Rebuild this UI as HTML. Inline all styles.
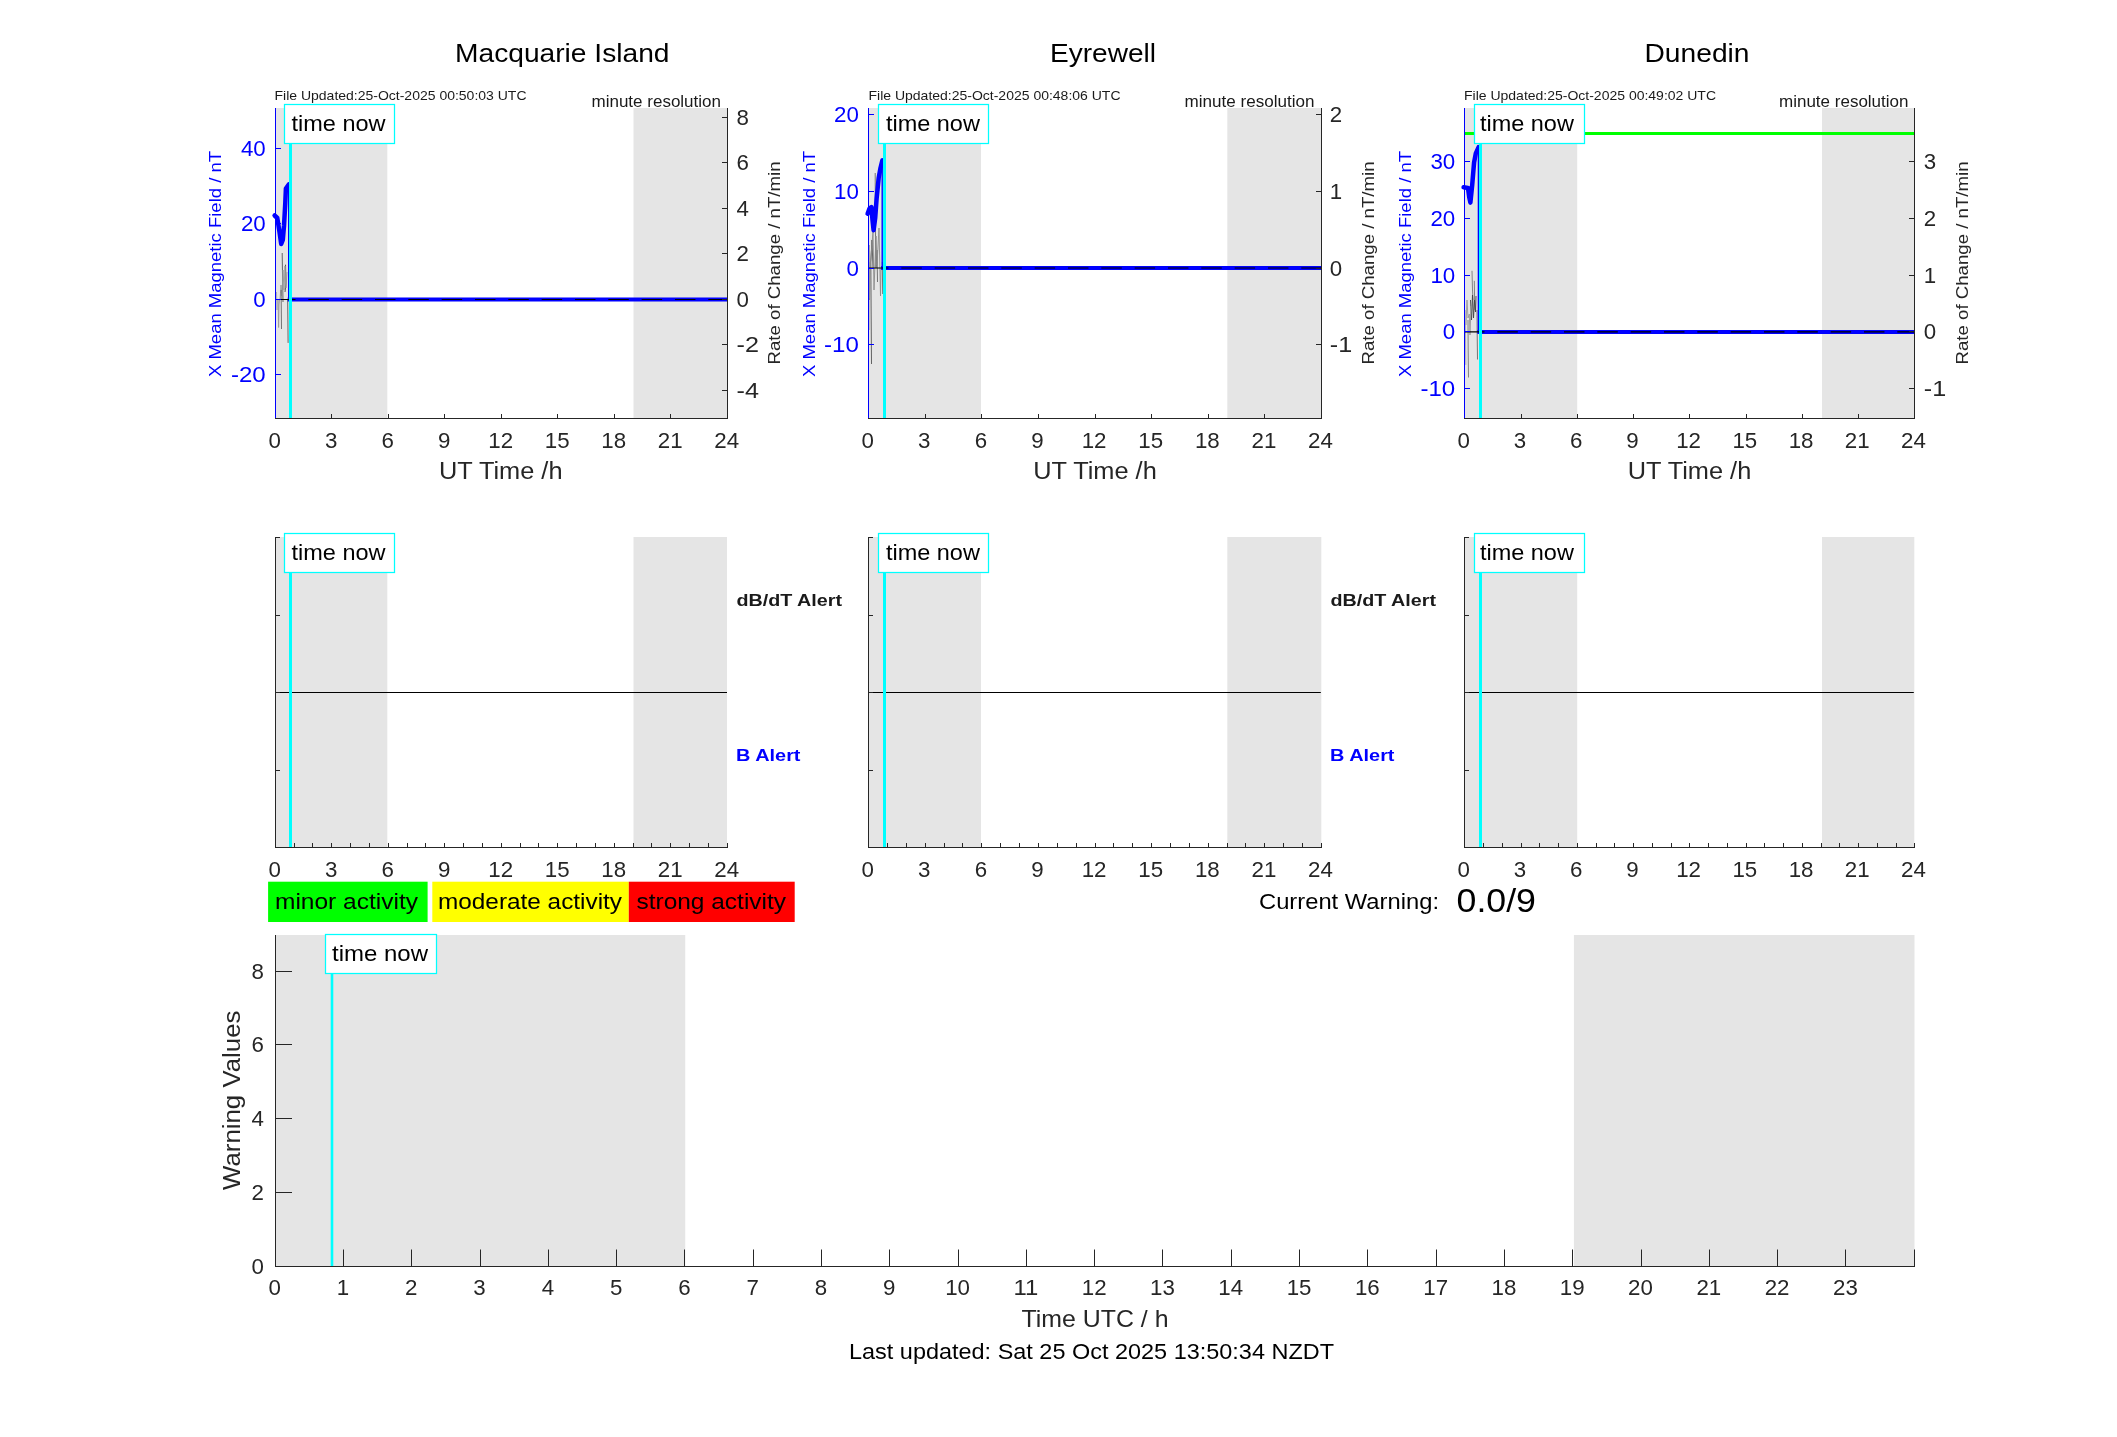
<!DOCTYPE html>
<html><head><meta charset="utf-8"><style>
html,body{margin:0;padding:0;background:#fff;overflow:hidden}
svg{display:block;will-change:transform}
text{font-family:"Liberation Sans", sans-serif}
</style></head><body>
<svg width="2117" height="1437" viewBox="0 0 2117 1437">
<rect width="2117" height="1437" fill="#fff"/>
<rect x="275.5" y="108" width="111.80000000000001" height="310" fill="#e5e5e5"/>
<rect x="633.5" y="108" width="93.5" height="310" fill="#e5e5e5"/>
<rect x="868.5" y="108" width="112.5" height="310" fill="#e5e5e5"/>
<rect x="1227.3" y="108" width="94.0" height="310" fill="#e5e5e5"/>
<rect x="1464.5" y="108" width="112.70000000000005" height="310" fill="#e5e5e5"/>
<rect x="1822.0" y="108" width="92.29999999999995" height="310" fill="#e5e5e5"/>
<line x1="1464.5" y1="133.5" x2="1914.3" y2="133.5" stroke="#00ff00" stroke-width="3"/>
<path d="M282.2,253 L282.6,280 L283,302" fill="none" stroke="#555" stroke-width="0.9"/>
<path d="M285.5,264.7 L285.8,275 L286,283 L285,292" fill="none" stroke="#444" stroke-width="0.9"/>
<path d="M280,300 L281,285 L282,296 L283,270 L284,290 L285,266 L286,288 L287,272" fill="none" stroke="#999" stroke-width="0.9"/>
<path d="M281.1,290 L281.3,310 L281.5,329" fill="none" stroke="#666" stroke-width="0.9"/>
<path d="M278.2,300 L278.4,315 L278.6,327.5 L279,305 L279.5,300" fill="none" stroke="#9a9a9a" stroke-width="0.9"/>
<path d="M287.7,300 L287.9,320 L288.1,342.9" fill="none" stroke="#555" stroke-width="0.9"/>
<path d="M276.5,292 L277,310 L277.5,300" fill="none" stroke="#aaa" stroke-width="0.9"/>
<path d="M274.6,215.5 L277.3,218.0 L279.5,232.0 L281.2,244.0 L282.8,240.0 L284.0,226.0 L285.3,203.0 L285.9,188.5 L288.9,184.3" fill="none" stroke="#0000ff" stroke-width="4.5" stroke-linejoin="round" stroke-linecap="round"/>
<line x1="288.7" y1="184.3" x2="288.7" y2="299.5" stroke="#0000ff" stroke-width="1.4"/>
<line x1="287.7" y1="299.5" x2="727.5" y2="299.5" stroke="#0000ff" stroke-width="4"/>
<line x1="275.0" y1="299.5" x2="727.5" y2="299.5" stroke="#000" stroke-width="1.1" stroke-dasharray="20.5 12.83"/>
<path d="M871.5,364 L871.2,320 L870.8,262 L872,240 L873,268" fill="none" stroke="#555" stroke-width="0.9"/>
<path d="M875.2,173 L875.5,240 L876,268 L877,250 L877.5,282" fill="none" stroke="#666" stroke-width="0.9"/>
<path d="M868.5,268 L869,245 L869.5,300 L870,268 L873,232 L874,290 L876,236 L877,265 L879,228 L880.5,296 L881,268" fill="none" stroke="#8a8a8a" stroke-width="0.9"/>
<path d="M869.3,298 L869,262 L868.8,330 L868.6,300" fill="none" stroke="#999" stroke-width="0.9"/>
<path d="M882.3,262 L882.5,280 L882.7,294" fill="none" stroke="#666" stroke-width="0.9"/>
<path d="M867.6,213.7 L869.5,208.5 L871.4,207.1 L872.5,220.0 L873.6,230.2 L875.2,218.0 L876.6,198.7 L878.7,177.8 L880.5,168.0 L882.4,160.4" fill="none" stroke="#0000ff" stroke-width="4.5" stroke-linejoin="round" stroke-linecap="round"/>
<line x1="882.1999999999999" y1="160.4" x2="882.1999999999999" y2="268.0" stroke="#0000ff" stroke-width="1.4"/>
<line x1="881.1999999999999" y1="268.0" x2="1321.3" y2="268.0" stroke="#0000ff" stroke-width="4"/>
<line x1="868.0" y1="268.0" x2="1321.3" y2="268.0" stroke="#000" stroke-width="1.1" stroke-dasharray="20.5 12.83"/>
<path d="M1472,270.8 L1472.5,290 L1473,300" fill="none" stroke="#777" stroke-width="0.9"/>
<path d="M1474.3,280.8 L1474.6,300 L1475,310" fill="none" stroke="#777" stroke-width="0.9"/>
<path d="M1470.5,300 L1471.5,320 L1472.5,295 L1473.5,318 L1474.5,300 L1475.5,312 L1476,296" fill="none" stroke="#444" stroke-width="0.9"/>
<path d="M1468,320 L1468.2,350 L1468.5,377.5" fill="none" stroke="#777" stroke-width="0.9"/>
<path d="M1477,310 L1477.2,335 L1477.5,359.5" fill="none" stroke="#666" stroke-width="0.9"/>
<path d="M1465.2,310 L1465.5,340 L1465.8,364.9" fill="none" stroke="#aaa" stroke-width="0.9"/>
<path d="M1466,325 L1467,300 L1468,318 L1469.3,314 L1470,335 L1471,306" fill="none" stroke="#999" stroke-width="0.9"/>
<path d="M1463.6,187.3 L1468.0,187.9 L1469.2,197.0 L1470.4,202.6 L1472.2,185.0 L1474.1,162.3 L1475.8,153.4 L1478.6,147.2" fill="none" stroke="#0000ff" stroke-width="4.5" stroke-linejoin="round" stroke-linecap="round"/>
<line x1="1478.3999999999999" y1="147.2" x2="1478.3999999999999" y2="331.9" stroke="#0000ff" stroke-width="1.4"/>
<line x1="1477.3999999999999" y1="331.9" x2="1914.3" y2="331.9" stroke="#0000ff" stroke-width="4"/>
<line x1="1464.0" y1="331.9" x2="1914.3" y2="331.9" stroke="#000" stroke-width="1.1" stroke-dasharray="20.5 12.83"/>
<line x1="290.5" y1="108.0" x2="290.5" y2="418.5" stroke="#00ffff" stroke-width="3"/>
<line x1="275.5" y1="108.0" x2="275.5" y2="418.5" stroke="#0000ff" stroke-width="1.0"/>
<line x1="727.5" y1="108.0" x2="727.5" y2="418.5" stroke="#262626" stroke-width="1.0"/>
<line x1="275.0" y1="418.5" x2="728.0" y2="418.5" stroke="#262626" stroke-width="1.0"/>
<line x1="331.5" y1="418.5" x2="331.5" y2="414.0" stroke="#262626" stroke-width="1.0"/>
<line x1="388.5" y1="418.5" x2="388.5" y2="414.0" stroke="#262626" stroke-width="1.0"/>
<line x1="444.5" y1="418.5" x2="444.5" y2="414.0" stroke="#262626" stroke-width="1.0"/>
<line x1="501.5" y1="418.5" x2="501.5" y2="414.0" stroke="#262626" stroke-width="1.0"/>
<line x1="557.5" y1="418.5" x2="557.5" y2="414.0" stroke="#262626" stroke-width="1.0"/>
<line x1="614.5" y1="418.5" x2="614.5" y2="414.0" stroke="#262626" stroke-width="1.0"/>
<line x1="670.5" y1="418.5" x2="670.5" y2="414.0" stroke="#262626" stroke-width="1.0"/>
<line x1="275.5" y1="148.5" x2="281.0" y2="148.5" stroke="#0000ff" stroke-width="1.0"/>
<line x1="275.5" y1="223.5" x2="281.0" y2="223.5" stroke="#0000ff" stroke-width="1.0"/>
<line x1="275.5" y1="299.5" x2="281.0" y2="299.5" stroke="#0000ff" stroke-width="1.0"/>
<line x1="275.5" y1="374.5" x2="281.0" y2="374.5" stroke="#0000ff" stroke-width="1.0"/>
<line x1="727.5" y1="117.5" x2="722.0" y2="117.5" stroke="#262626" stroke-width="1.0"/>
<line x1="727.5" y1="162.5" x2="722.0" y2="162.5" stroke="#262626" stroke-width="1.0"/>
<line x1="727.5" y1="208.5" x2="722.0" y2="208.5" stroke="#262626" stroke-width="1.0"/>
<line x1="727.5" y1="253.5" x2="722.0" y2="253.5" stroke="#262626" stroke-width="1.0"/>
<line x1="727.5" y1="299.5" x2="722.0" y2="299.5" stroke="#262626" stroke-width="1.0"/>
<line x1="727.5" y1="344.5" x2="722.0" y2="344.5" stroke="#262626" stroke-width="1.0"/>
<line x1="727.5" y1="390.5" x2="722.0" y2="390.5" stroke="#262626" stroke-width="1.0"/>
<line x1="884.5" y1="108.0" x2="884.5" y2="418.5" stroke="#00ffff" stroke-width="3"/>
<line x1="868.5" y1="108.0" x2="868.5" y2="418.5" stroke="#0000ff" stroke-width="1.0"/>
<line x1="1321.5" y1="108.0" x2="1321.5" y2="418.5" stroke="#262626" stroke-width="1.0"/>
<line x1="868.0" y1="418.5" x2="1322.0" y2="418.5" stroke="#262626" stroke-width="1.0"/>
<line x1="925.5" y1="418.5" x2="925.5" y2="414.0" stroke="#262626" stroke-width="1.0"/>
<line x1="981.5" y1="418.5" x2="981.5" y2="414.0" stroke="#262626" stroke-width="1.0"/>
<line x1="1038.5" y1="418.5" x2="1038.5" y2="414.0" stroke="#262626" stroke-width="1.0"/>
<line x1="1095.5" y1="418.5" x2="1095.5" y2="414.0" stroke="#262626" stroke-width="1.0"/>
<line x1="1151.5" y1="418.5" x2="1151.5" y2="414.0" stroke="#262626" stroke-width="1.0"/>
<line x1="1208.5" y1="418.5" x2="1208.5" y2="414.0" stroke="#262626" stroke-width="1.0"/>
<line x1="1264.5" y1="418.5" x2="1264.5" y2="414.0" stroke="#262626" stroke-width="1.0"/>
<line x1="868.5" y1="114.5" x2="874.0" y2="114.5" stroke="#0000ff" stroke-width="1.0"/>
<line x1="868.5" y1="191.5" x2="874.0" y2="191.5" stroke="#0000ff" stroke-width="1.0"/>
<line x1="868.5" y1="268.5" x2="874.0" y2="268.5" stroke="#0000ff" stroke-width="1.0"/>
<line x1="868.5" y1="344.5" x2="874.0" y2="344.5" stroke="#0000ff" stroke-width="1.0"/>
<line x1="1321.5" y1="114.5" x2="1316.0" y2="114.5" stroke="#262626" stroke-width="1.0"/>
<line x1="1321.5" y1="191.5" x2="1316.0" y2="191.5" stroke="#262626" stroke-width="1.0"/>
<line x1="1321.5" y1="268.5" x2="1316.0" y2="268.5" stroke="#262626" stroke-width="1.0"/>
<line x1="1321.5" y1="344.5" x2="1316.0" y2="344.5" stroke="#262626" stroke-width="1.0"/>
<line x1="1480.5" y1="108.0" x2="1480.5" y2="418.5" stroke="#00ffff" stroke-width="3"/>
<line x1="1464.5" y1="108.0" x2="1464.5" y2="418.5" stroke="#0000ff" stroke-width="1.0"/>
<line x1="1914.5" y1="108.0" x2="1914.5" y2="418.5" stroke="#262626" stroke-width="1.0"/>
<line x1="1464.0" y1="418.5" x2="1915.0" y2="418.5" stroke="#262626" stroke-width="1.0"/>
<line x1="1521.5" y1="418.5" x2="1521.5" y2="414.0" stroke="#262626" stroke-width="1.0"/>
<line x1="1577.5" y1="418.5" x2="1577.5" y2="414.0" stroke="#262626" stroke-width="1.0"/>
<line x1="1633.5" y1="418.5" x2="1633.5" y2="414.0" stroke="#262626" stroke-width="1.0"/>
<line x1="1689.5" y1="418.5" x2="1689.5" y2="414.0" stroke="#262626" stroke-width="1.0"/>
<line x1="1746.5" y1="418.5" x2="1746.5" y2="414.0" stroke="#262626" stroke-width="1.0"/>
<line x1="1802.5" y1="418.5" x2="1802.5" y2="414.0" stroke="#262626" stroke-width="1.0"/>
<line x1="1858.5" y1="418.5" x2="1858.5" y2="414.0" stroke="#262626" stroke-width="1.0"/>
<line x1="1464.5" y1="161.5" x2="1470.0" y2="161.5" stroke="#0000ff" stroke-width="1.0"/>
<line x1="1464.5" y1="218.5" x2="1470.0" y2="218.5" stroke="#0000ff" stroke-width="1.0"/>
<line x1="1464.5" y1="275.5" x2="1470.0" y2="275.5" stroke="#0000ff" stroke-width="1.0"/>
<line x1="1464.5" y1="331.5" x2="1470.0" y2="331.5" stroke="#0000ff" stroke-width="1.0"/>
<line x1="1464.5" y1="388.5" x2="1470.0" y2="388.5" stroke="#0000ff" stroke-width="1.0"/>
<line x1="1914.5" y1="161.5" x2="1909.0" y2="161.5" stroke="#262626" stroke-width="1.0"/>
<line x1="1914.5" y1="218.5" x2="1909.0" y2="218.5" stroke="#262626" stroke-width="1.0"/>
<line x1="1914.5" y1="275.5" x2="1909.0" y2="275.5" stroke="#262626" stroke-width="1.0"/>
<line x1="1914.5" y1="331.5" x2="1909.0" y2="331.5" stroke="#262626" stroke-width="1.0"/>
<line x1="1914.5" y1="388.5" x2="1909.0" y2="388.5" stroke="#262626" stroke-width="1.0"/>
<rect x="275.5" y="537.0" width="111.80000000000001" height="310.5" fill="#e5e5e5"/>
<rect x="633.5" y="537.0" width="93.5" height="310.5" fill="#e5e5e5"/>
<line x1="275.5" y1="692.5" x2="727.0" y2="692.5" stroke="#000" stroke-width="1.0"/>
<line x1="290.5" y1="537.0" x2="290.5" y2="847.5" stroke="#00ffff" stroke-width="3"/>
<line x1="275.5" y1="537.0" x2="275.5" y2="847.5" stroke="#262626" stroke-width="1.0"/>
<line x1="275.0" y1="847.5" x2="728.0" y2="847.5" stroke="#262626" stroke-width="1.0"/>
<line x1="275.5" y1="537.5" x2="280.0" y2="537.5" stroke="#262626" stroke-width="1.0"/>
<line x1="275.5" y1="615.5" x2="280.0" y2="615.5" stroke="#262626" stroke-width="1.0"/>
<line x1="275.5" y1="692.5" x2="280.0" y2="692.5" stroke="#262626" stroke-width="1.0"/>
<line x1="275.5" y1="770.5" x2="280.0" y2="770.5" stroke="#262626" stroke-width="1.0"/>
<line x1="275.5" y1="847.5" x2="280.0" y2="847.5" stroke="#262626" stroke-width="1.0"/>
<line x1="275.5" y1="847.5" x2="275.5" y2="843.0" stroke="#262626" stroke-width="1.0"/>
<line x1="294.5" y1="847.5" x2="294.5" y2="843.0" stroke="#262626" stroke-width="1.0"/>
<line x1="312.5" y1="847.5" x2="312.5" y2="843.0" stroke="#262626" stroke-width="1.0"/>
<line x1="331.5" y1="847.5" x2="331.5" y2="843.0" stroke="#262626" stroke-width="1.0"/>
<line x1="350.5" y1="847.5" x2="350.5" y2="843.0" stroke="#262626" stroke-width="1.0"/>
<line x1="369.5" y1="847.5" x2="369.5" y2="843.0" stroke="#262626" stroke-width="1.0"/>
<line x1="388.5" y1="847.5" x2="388.5" y2="843.0" stroke="#262626" stroke-width="1.0"/>
<line x1="407.5" y1="847.5" x2="407.5" y2="843.0" stroke="#262626" stroke-width="1.0"/>
<line x1="425.5" y1="847.5" x2="425.5" y2="843.0" stroke="#262626" stroke-width="1.0"/>
<line x1="444.5" y1="847.5" x2="444.5" y2="843.0" stroke="#262626" stroke-width="1.0"/>
<line x1="463.5" y1="847.5" x2="463.5" y2="843.0" stroke="#262626" stroke-width="1.0"/>
<line x1="482.5" y1="847.5" x2="482.5" y2="843.0" stroke="#262626" stroke-width="1.0"/>
<line x1="501.5" y1="847.5" x2="501.5" y2="843.0" stroke="#262626" stroke-width="1.0"/>
<line x1="520.5" y1="847.5" x2="520.5" y2="843.0" stroke="#262626" stroke-width="1.0"/>
<line x1="538.5" y1="847.5" x2="538.5" y2="843.0" stroke="#262626" stroke-width="1.0"/>
<line x1="557.5" y1="847.5" x2="557.5" y2="843.0" stroke="#262626" stroke-width="1.0"/>
<line x1="576.5" y1="847.5" x2="576.5" y2="843.0" stroke="#262626" stroke-width="1.0"/>
<line x1="595.5" y1="847.5" x2="595.5" y2="843.0" stroke="#262626" stroke-width="1.0"/>
<line x1="614.5" y1="847.5" x2="614.5" y2="843.0" stroke="#262626" stroke-width="1.0"/>
<line x1="633.5" y1="847.5" x2="633.5" y2="843.0" stroke="#262626" stroke-width="1.0"/>
<line x1="651.5" y1="847.5" x2="651.5" y2="843.0" stroke="#262626" stroke-width="1.0"/>
<line x1="670.5" y1="847.5" x2="670.5" y2="843.0" stroke="#262626" stroke-width="1.0"/>
<line x1="689.5" y1="847.5" x2="689.5" y2="843.0" stroke="#262626" stroke-width="1.0"/>
<line x1="708.5" y1="847.5" x2="708.5" y2="843.0" stroke="#262626" stroke-width="1.0"/>
<line x1="727.5" y1="847.5" x2="727.5" y2="843.0" stroke="#262626" stroke-width="1.0"/>
<rect x="868.5" y="537.0" width="112.5" height="310.5" fill="#e5e5e5"/>
<rect x="1227.3" y="537.0" width="94.0" height="310.5" fill="#e5e5e5"/>
<line x1="868.5" y1="692.5" x2="1320.8" y2="692.5" stroke="#000" stroke-width="1.0"/>
<line x1="884.5" y1="537.0" x2="884.5" y2="847.5" stroke="#00ffff" stroke-width="3"/>
<line x1="868.5" y1="537.0" x2="868.5" y2="847.5" stroke="#262626" stroke-width="1.0"/>
<line x1="868.0" y1="847.5" x2="1322.0" y2="847.5" stroke="#262626" stroke-width="1.0"/>
<line x1="868.5" y1="537.5" x2="873.0" y2="537.5" stroke="#262626" stroke-width="1.0"/>
<line x1="868.5" y1="615.5" x2="873.0" y2="615.5" stroke="#262626" stroke-width="1.0"/>
<line x1="868.5" y1="692.5" x2="873.0" y2="692.5" stroke="#262626" stroke-width="1.0"/>
<line x1="868.5" y1="770.5" x2="873.0" y2="770.5" stroke="#262626" stroke-width="1.0"/>
<line x1="868.5" y1="847.5" x2="873.0" y2="847.5" stroke="#262626" stroke-width="1.0"/>
<line x1="868.5" y1="847.5" x2="868.5" y2="843.0" stroke="#262626" stroke-width="1.0"/>
<line x1="887.5" y1="847.5" x2="887.5" y2="843.0" stroke="#262626" stroke-width="1.0"/>
<line x1="906.5" y1="847.5" x2="906.5" y2="843.0" stroke="#262626" stroke-width="1.0"/>
<line x1="925.5" y1="847.5" x2="925.5" y2="843.0" stroke="#262626" stroke-width="1.0"/>
<line x1="944.5" y1="847.5" x2="944.5" y2="843.0" stroke="#262626" stroke-width="1.0"/>
<line x1="962.5" y1="847.5" x2="962.5" y2="843.0" stroke="#262626" stroke-width="1.0"/>
<line x1="981.5" y1="847.5" x2="981.5" y2="843.0" stroke="#262626" stroke-width="1.0"/>
<line x1="1000.5" y1="847.5" x2="1000.5" y2="843.0" stroke="#262626" stroke-width="1.0"/>
<line x1="1019.5" y1="847.5" x2="1019.5" y2="843.0" stroke="#262626" stroke-width="1.0"/>
<line x1="1038.5" y1="847.5" x2="1038.5" y2="843.0" stroke="#262626" stroke-width="1.0"/>
<line x1="1057.5" y1="847.5" x2="1057.5" y2="843.0" stroke="#262626" stroke-width="1.0"/>
<line x1="1076.5" y1="847.5" x2="1076.5" y2="843.0" stroke="#262626" stroke-width="1.0"/>
<line x1="1095.5" y1="847.5" x2="1095.5" y2="843.0" stroke="#262626" stroke-width="1.0"/>
<line x1="1113.5" y1="847.5" x2="1113.5" y2="843.0" stroke="#262626" stroke-width="1.0"/>
<line x1="1132.5" y1="847.5" x2="1132.5" y2="843.0" stroke="#262626" stroke-width="1.0"/>
<line x1="1151.5" y1="847.5" x2="1151.5" y2="843.0" stroke="#262626" stroke-width="1.0"/>
<line x1="1170.5" y1="847.5" x2="1170.5" y2="843.0" stroke="#262626" stroke-width="1.0"/>
<line x1="1189.5" y1="847.5" x2="1189.5" y2="843.0" stroke="#262626" stroke-width="1.0"/>
<line x1="1208.5" y1="847.5" x2="1208.5" y2="843.0" stroke="#262626" stroke-width="1.0"/>
<line x1="1227.5" y1="847.5" x2="1227.5" y2="843.0" stroke="#262626" stroke-width="1.0"/>
<line x1="1245.5" y1="847.5" x2="1245.5" y2="843.0" stroke="#262626" stroke-width="1.0"/>
<line x1="1264.5" y1="847.5" x2="1264.5" y2="843.0" stroke="#262626" stroke-width="1.0"/>
<line x1="1283.5" y1="847.5" x2="1283.5" y2="843.0" stroke="#262626" stroke-width="1.0"/>
<line x1="1302.5" y1="847.5" x2="1302.5" y2="843.0" stroke="#262626" stroke-width="1.0"/>
<line x1="1321.5" y1="847.5" x2="1321.5" y2="843.0" stroke="#262626" stroke-width="1.0"/>
<rect x="1464.5" y="537.0" width="112.70000000000005" height="310.5" fill="#e5e5e5"/>
<rect x="1822.0" y="537.0" width="92.29999999999995" height="310.5" fill="#e5e5e5"/>
<line x1="1464.5" y1="692.5" x2="1913.8" y2="692.5" stroke="#000" stroke-width="1.0"/>
<line x1="1480.5" y1="537.0" x2="1480.5" y2="847.5" stroke="#00ffff" stroke-width="3"/>
<line x1="1464.5" y1="537.0" x2="1464.5" y2="847.5" stroke="#262626" stroke-width="1.0"/>
<line x1="1464.0" y1="847.5" x2="1915.0" y2="847.5" stroke="#262626" stroke-width="1.0"/>
<line x1="1464.5" y1="537.5" x2="1469.0" y2="537.5" stroke="#262626" stroke-width="1.0"/>
<line x1="1464.5" y1="615.5" x2="1469.0" y2="615.5" stroke="#262626" stroke-width="1.0"/>
<line x1="1464.5" y1="692.5" x2="1469.0" y2="692.5" stroke="#262626" stroke-width="1.0"/>
<line x1="1464.5" y1="770.5" x2="1469.0" y2="770.5" stroke="#262626" stroke-width="1.0"/>
<line x1="1464.5" y1="847.5" x2="1469.0" y2="847.5" stroke="#262626" stroke-width="1.0"/>
<line x1="1464.5" y1="847.5" x2="1464.5" y2="843.0" stroke="#262626" stroke-width="1.0"/>
<line x1="1483.5" y1="847.5" x2="1483.5" y2="843.0" stroke="#262626" stroke-width="1.0"/>
<line x1="1502.5" y1="847.5" x2="1502.5" y2="843.0" stroke="#262626" stroke-width="1.0"/>
<line x1="1521.5" y1="847.5" x2="1521.5" y2="843.0" stroke="#262626" stroke-width="1.0"/>
<line x1="1539.5" y1="847.5" x2="1539.5" y2="843.0" stroke="#262626" stroke-width="1.0"/>
<line x1="1558.5" y1="847.5" x2="1558.5" y2="843.0" stroke="#262626" stroke-width="1.0"/>
<line x1="1577.5" y1="847.5" x2="1577.5" y2="843.0" stroke="#262626" stroke-width="1.0"/>
<line x1="1596.5" y1="847.5" x2="1596.5" y2="843.0" stroke="#262626" stroke-width="1.0"/>
<line x1="1614.5" y1="847.5" x2="1614.5" y2="843.0" stroke="#262626" stroke-width="1.0"/>
<line x1="1633.5" y1="847.5" x2="1633.5" y2="843.0" stroke="#262626" stroke-width="1.0"/>
<line x1="1652.5" y1="847.5" x2="1652.5" y2="843.0" stroke="#262626" stroke-width="1.0"/>
<line x1="1671.5" y1="847.5" x2="1671.5" y2="843.0" stroke="#262626" stroke-width="1.0"/>
<line x1="1689.5" y1="847.5" x2="1689.5" y2="843.0" stroke="#262626" stroke-width="1.0"/>
<line x1="1708.5" y1="847.5" x2="1708.5" y2="843.0" stroke="#262626" stroke-width="1.0"/>
<line x1="1727.5" y1="847.5" x2="1727.5" y2="843.0" stroke="#262626" stroke-width="1.0"/>
<line x1="1746.5" y1="847.5" x2="1746.5" y2="843.0" stroke="#262626" stroke-width="1.0"/>
<line x1="1764.5" y1="847.5" x2="1764.5" y2="843.0" stroke="#262626" stroke-width="1.0"/>
<line x1="1783.5" y1="847.5" x2="1783.5" y2="843.0" stroke="#262626" stroke-width="1.0"/>
<line x1="1802.5" y1="847.5" x2="1802.5" y2="843.0" stroke="#262626" stroke-width="1.0"/>
<line x1="1821.5" y1="847.5" x2="1821.5" y2="843.0" stroke="#262626" stroke-width="1.0"/>
<line x1="1839.5" y1="847.5" x2="1839.5" y2="843.0" stroke="#262626" stroke-width="1.0"/>
<line x1="1858.5" y1="847.5" x2="1858.5" y2="843.0" stroke="#262626" stroke-width="1.0"/>
<line x1="1877.5" y1="847.5" x2="1877.5" y2="843.0" stroke="#262626" stroke-width="1.0"/>
<line x1="1896.5" y1="847.5" x2="1896.5" y2="843.0" stroke="#262626" stroke-width="1.0"/>
<line x1="1914.5" y1="847.5" x2="1914.5" y2="843.0" stroke="#262626" stroke-width="1.0"/>
<rect x="275.5" y="935.0" width="409.75" height="331.5" fill="#e5e5e5"/>
<rect x="1573.9" y="935.0" width="340.5999999999999" height="331.5" fill="#e5e5e5"/>
<line x1="332.0" y1="935.0" x2="332.0" y2="1266.5" stroke="#00ffff" stroke-width="2.6"/>
<line x1="275.5" y1="935.0" x2="275.5" y2="1266.5" stroke="#262626" stroke-width="1.0"/>
<line x1="275.0" y1="1266.5" x2="1915.0" y2="1266.5" stroke="#262626" stroke-width="1.0"/>
<line x1="275.5" y1="1266.5" x2="292.0" y2="1266.5" stroke="#262626" stroke-width="1.0"/>
<line x1="275.5" y1="1192.5" x2="292.0" y2="1192.5" stroke="#262626" stroke-width="1.0"/>
<line x1="275.5" y1="1118.5" x2="292.0" y2="1118.5" stroke="#262626" stroke-width="1.0"/>
<line x1="275.5" y1="1044.5" x2="292.0" y2="1044.5" stroke="#262626" stroke-width="1.0"/>
<line x1="275.5" y1="971.5" x2="292.0" y2="971.5" stroke="#262626" stroke-width="1.0"/>
<line x1="275.5" y1="1266.5" x2="275.5" y2="1249.5" stroke="#262626" stroke-width="1.0"/>
<line x1="343.5" y1="1266.5" x2="343.5" y2="1249.5" stroke="#262626" stroke-width="1.0"/>
<line x1="411.5" y1="1266.5" x2="411.5" y2="1249.5" stroke="#262626" stroke-width="1.0"/>
<line x1="480.5" y1="1266.5" x2="480.5" y2="1249.5" stroke="#262626" stroke-width="1.0"/>
<line x1="548.5" y1="1266.5" x2="548.5" y2="1249.5" stroke="#262626" stroke-width="1.0"/>
<line x1="616.5" y1="1266.5" x2="616.5" y2="1249.5" stroke="#262626" stroke-width="1.0"/>
<line x1="684.5" y1="1266.5" x2="684.5" y2="1249.5" stroke="#262626" stroke-width="1.0"/>
<line x1="753.5" y1="1266.5" x2="753.5" y2="1249.5" stroke="#262626" stroke-width="1.0"/>
<line x1="821.5" y1="1266.5" x2="821.5" y2="1249.5" stroke="#262626" stroke-width="1.0"/>
<line x1="889.5" y1="1266.5" x2="889.5" y2="1249.5" stroke="#262626" stroke-width="1.0"/>
<line x1="958.5" y1="1266.5" x2="958.5" y2="1249.5" stroke="#262626" stroke-width="1.0"/>
<line x1="1026.5" y1="1266.5" x2="1026.5" y2="1249.5" stroke="#262626" stroke-width="1.0"/>
<line x1="1094.5" y1="1266.5" x2="1094.5" y2="1249.5" stroke="#262626" stroke-width="1.0"/>
<line x1="1162.5" y1="1266.5" x2="1162.5" y2="1249.5" stroke="#262626" stroke-width="1.0"/>
<line x1="1231.5" y1="1266.5" x2="1231.5" y2="1249.5" stroke="#262626" stroke-width="1.0"/>
<line x1="1299.5" y1="1266.5" x2="1299.5" y2="1249.5" stroke="#262626" stroke-width="1.0"/>
<line x1="1367.5" y1="1266.5" x2="1367.5" y2="1249.5" stroke="#262626" stroke-width="1.0"/>
<line x1="1436.5" y1="1266.5" x2="1436.5" y2="1249.5" stroke="#262626" stroke-width="1.0"/>
<line x1="1504.5" y1="1266.5" x2="1504.5" y2="1249.5" stroke="#262626" stroke-width="1.0"/>
<line x1="1572.5" y1="1266.5" x2="1572.5" y2="1249.5" stroke="#262626" stroke-width="1.0"/>
<line x1="1641.5" y1="1266.5" x2="1641.5" y2="1249.5" stroke="#262626" stroke-width="1.0"/>
<line x1="1709.5" y1="1266.5" x2="1709.5" y2="1249.5" stroke="#262626" stroke-width="1.0"/>
<line x1="1777.5" y1="1266.5" x2="1777.5" y2="1249.5" stroke="#262626" stroke-width="1.0"/>
<line x1="1845.5" y1="1266.5" x2="1845.5" y2="1249.5" stroke="#262626" stroke-width="1.0"/>
<line x1="1914.5" y1="1266.5" x2="1914.5" y2="1249.5" stroke="#262626" stroke-width="1.0"/>
<rect x="268.1" y="881.7" width="159.5" height="40.299999999999955" fill="#00ff00"/>
<rect x="432.3" y="881.7" width="196.49999999999994" height="40.299999999999955" fill="#ffff00"/>
<rect x="628.8" y="881.7" width="165.9000000000001" height="40.299999999999955" fill="#ff0000"/>
<rect x="284.5" y="104.5" width="110" height="39" fill="#fff" stroke="#00ffff" stroke-width="1.25"/>
<rect x="284.5" y="533.5" width="110" height="39" fill="#fff" stroke="#00ffff" stroke-width="1.25"/>
<rect x="878.5" y="104.5" width="110" height="39" fill="#fff" stroke="#00ffff" stroke-width="1.25"/>
<rect x="878.5" y="533.5" width="110" height="39" fill="#fff" stroke="#00ffff" stroke-width="1.25"/>
<rect x="1474.5" y="104.5" width="110" height="39" fill="#fff" stroke="#00ffff" stroke-width="1.25"/>
<rect x="1474.5" y="533.5" width="110" height="39" fill="#fff" stroke="#00ffff" stroke-width="1.25"/>
<rect x="325.5" y="934.5" width="111" height="39" fill="#fff" stroke="#00ffff" stroke-width="1.25"/>
<text x="274.70" y="448.00" font-size="21.84" fill="#262626" text-anchor="middle" textLength="12.40" lengthAdjust="spacingAndGlyphs">0</text>
<text x="331.20" y="448.00" font-size="21.84" fill="#262626" text-anchor="middle" textLength="12.40" lengthAdjust="spacingAndGlyphs">3</text>
<text x="387.70" y="448.00" font-size="21.84" fill="#262626" text-anchor="middle" textLength="12.40" lengthAdjust="spacingAndGlyphs">6</text>
<text x="444.20" y="448.00" font-size="21.84" fill="#262626" text-anchor="middle" textLength="12.40" lengthAdjust="spacingAndGlyphs">9</text>
<text x="500.70" y="448.00" font-size="21.84" fill="#262626" text-anchor="middle" textLength="24.80" lengthAdjust="spacingAndGlyphs">12</text>
<text x="557.20" y="448.00" font-size="21.84" fill="#262626" text-anchor="middle" textLength="24.80" lengthAdjust="spacingAndGlyphs">15</text>
<text x="613.70" y="448.00" font-size="21.84" fill="#262626" text-anchor="middle" textLength="24.80" lengthAdjust="spacingAndGlyphs">18</text>
<text x="670.20" y="448.00" font-size="21.84" fill="#262626" text-anchor="middle" textLength="24.80" lengthAdjust="spacingAndGlyphs">21</text>
<text x="726.70" y="448.00" font-size="21.84" fill="#262626" text-anchor="middle" textLength="24.80" lengthAdjust="spacingAndGlyphs">24</text>
<text x="265.70" y="156.07" font-size="21.84" fill="#0000ff" text-anchor="end" textLength="24.80" lengthAdjust="spacingAndGlyphs">40</text>
<text x="265.70" y="231.41" font-size="21.84" fill="#0000ff" text-anchor="end" textLength="24.80" lengthAdjust="spacingAndGlyphs">20</text>
<text x="265.70" y="306.75" font-size="21.84" fill="#0000ff" text-anchor="end" textLength="12.40" lengthAdjust="spacingAndGlyphs">0</text>
<text x="265.70" y="382.09" font-size="21.84" fill="#0000ff" text-anchor="end" textLength="34.80" lengthAdjust="spacingAndGlyphs">-20</text>
<text x="736.60" y="124.99" font-size="21.84" fill="#262626" text-anchor="start" textLength="12.40" lengthAdjust="spacingAndGlyphs">8</text>
<text x="736.60" y="170.43" font-size="21.84" fill="#262626" text-anchor="start" textLength="12.40" lengthAdjust="spacingAndGlyphs">6</text>
<text x="736.60" y="215.87" font-size="21.84" fill="#262626" text-anchor="start" textLength="12.40" lengthAdjust="spacingAndGlyphs">4</text>
<text x="736.60" y="261.31" font-size="21.84" fill="#262626" text-anchor="start" textLength="12.40" lengthAdjust="spacingAndGlyphs">2</text>
<text x="736.60" y="306.75" font-size="21.84" fill="#262626" text-anchor="start" textLength="12.40" lengthAdjust="spacingAndGlyphs">0</text>
<text x="736.60" y="352.19" font-size="21.84" fill="#262626" text-anchor="start" textLength="22.40" lengthAdjust="spacingAndGlyphs">-2</text>
<text x="736.60" y="397.63" font-size="21.84" fill="#262626" text-anchor="start" textLength="22.40" lengthAdjust="spacingAndGlyphs">-4</text>
<text x="867.70" y="448.00" font-size="21.84" fill="#262626" text-anchor="middle" textLength="12.40" lengthAdjust="spacingAndGlyphs">0</text>
<text x="924.30" y="448.00" font-size="21.84" fill="#262626" text-anchor="middle" textLength="12.40" lengthAdjust="spacingAndGlyphs">3</text>
<text x="980.90" y="448.00" font-size="21.84" fill="#262626" text-anchor="middle" textLength="12.40" lengthAdjust="spacingAndGlyphs">6</text>
<text x="1037.50" y="448.00" font-size="21.84" fill="#262626" text-anchor="middle" textLength="12.40" lengthAdjust="spacingAndGlyphs">9</text>
<text x="1094.10" y="448.00" font-size="21.84" fill="#262626" text-anchor="middle" textLength="24.80" lengthAdjust="spacingAndGlyphs">12</text>
<text x="1150.70" y="448.00" font-size="21.84" fill="#262626" text-anchor="middle" textLength="24.80" lengthAdjust="spacingAndGlyphs">15</text>
<text x="1207.30" y="448.00" font-size="21.84" fill="#262626" text-anchor="middle" textLength="24.80" lengthAdjust="spacingAndGlyphs">18</text>
<text x="1263.90" y="448.00" font-size="21.84" fill="#262626" text-anchor="middle" textLength="24.80" lengthAdjust="spacingAndGlyphs">21</text>
<text x="1320.50" y="448.00" font-size="21.84" fill="#262626" text-anchor="middle" textLength="24.80" lengthAdjust="spacingAndGlyphs">24</text>
<text x="858.80" y="121.96" font-size="21.84" fill="#0000ff" text-anchor="end" textLength="24.80" lengthAdjust="spacingAndGlyphs">20</text>
<text x="858.80" y="198.73" font-size="21.84" fill="#0000ff" text-anchor="end" textLength="24.80" lengthAdjust="spacingAndGlyphs">10</text>
<text x="858.80" y="275.50" font-size="21.84" fill="#0000ff" text-anchor="end" textLength="12.40" lengthAdjust="spacingAndGlyphs">0</text>
<text x="858.80" y="352.27" font-size="21.84" fill="#0000ff" text-anchor="end" textLength="34.80" lengthAdjust="spacingAndGlyphs">-10</text>
<text x="1329.80" y="121.96" font-size="21.84" fill="#262626" text-anchor="start" textLength="12.40" lengthAdjust="spacingAndGlyphs">2</text>
<text x="1329.80" y="198.73" font-size="21.84" fill="#262626" text-anchor="start" textLength="12.40" lengthAdjust="spacingAndGlyphs">1</text>
<text x="1329.80" y="275.50" font-size="21.84" fill="#262626" text-anchor="start" textLength="12.40" lengthAdjust="spacingAndGlyphs">0</text>
<text x="1329.80" y="352.27" font-size="21.84" fill="#262626" text-anchor="start" textLength="22.40" lengthAdjust="spacingAndGlyphs">-1</text>
<text x="1463.70" y="448.00" font-size="21.84" fill="#262626" text-anchor="middle" textLength="12.40" lengthAdjust="spacingAndGlyphs">0</text>
<text x="1519.92" y="448.00" font-size="21.84" fill="#262626" text-anchor="middle" textLength="12.40" lengthAdjust="spacingAndGlyphs">3</text>
<text x="1576.15" y="448.00" font-size="21.84" fill="#262626" text-anchor="middle" textLength="12.40" lengthAdjust="spacingAndGlyphs">6</text>
<text x="1632.38" y="448.00" font-size="21.84" fill="#262626" text-anchor="middle" textLength="12.40" lengthAdjust="spacingAndGlyphs">9</text>
<text x="1688.60" y="448.00" font-size="21.84" fill="#262626" text-anchor="middle" textLength="24.80" lengthAdjust="spacingAndGlyphs">12</text>
<text x="1744.83" y="448.00" font-size="21.84" fill="#262626" text-anchor="middle" textLength="24.80" lengthAdjust="spacingAndGlyphs">15</text>
<text x="1801.05" y="448.00" font-size="21.84" fill="#262626" text-anchor="middle" textLength="24.80" lengthAdjust="spacingAndGlyphs">18</text>
<text x="1857.28" y="448.00" font-size="21.84" fill="#262626" text-anchor="middle" textLength="24.80" lengthAdjust="spacingAndGlyphs">21</text>
<text x="1913.50" y="448.00" font-size="21.84" fill="#262626" text-anchor="middle" textLength="24.80" lengthAdjust="spacingAndGlyphs">24</text>
<text x="1455.20" y="168.70" font-size="21.84" fill="#0000ff" text-anchor="end" textLength="24.80" lengthAdjust="spacingAndGlyphs">30</text>
<text x="1455.20" y="225.60" font-size="21.84" fill="#0000ff" text-anchor="end" textLength="24.80" lengthAdjust="spacingAndGlyphs">20</text>
<text x="1455.20" y="282.50" font-size="21.84" fill="#0000ff" text-anchor="end" textLength="24.80" lengthAdjust="spacingAndGlyphs">10</text>
<text x="1455.20" y="339.40" font-size="21.84" fill="#0000ff" text-anchor="end" textLength="12.40" lengthAdjust="spacingAndGlyphs">0</text>
<text x="1455.20" y="396.30" font-size="21.84" fill="#0000ff" text-anchor="end" textLength="34.80" lengthAdjust="spacingAndGlyphs">-10</text>
<text x="1923.80" y="168.70" font-size="21.84" fill="#262626" text-anchor="start" textLength="12.40" lengthAdjust="spacingAndGlyphs">3</text>
<text x="1923.80" y="225.60" font-size="21.84" fill="#262626" text-anchor="start" textLength="12.40" lengthAdjust="spacingAndGlyphs">2</text>
<text x="1923.80" y="282.50" font-size="21.84" fill="#262626" text-anchor="start" textLength="12.40" lengthAdjust="spacingAndGlyphs">1</text>
<text x="1923.80" y="339.40" font-size="21.84" fill="#262626" text-anchor="start" textLength="12.40" lengthAdjust="spacingAndGlyphs">0</text>
<text x="1923.80" y="396.30" font-size="21.84" fill="#262626" text-anchor="start" textLength="22.40" lengthAdjust="spacingAndGlyphs">-1</text>
<text x="274.70" y="877.20" font-size="21.84" fill="#262626" text-anchor="middle" textLength="12.40" lengthAdjust="spacingAndGlyphs">0</text>
<text x="331.20" y="877.20" font-size="21.84" fill="#262626" text-anchor="middle" textLength="12.40" lengthAdjust="spacingAndGlyphs">3</text>
<text x="387.70" y="877.20" font-size="21.84" fill="#262626" text-anchor="middle" textLength="12.40" lengthAdjust="spacingAndGlyphs">6</text>
<text x="444.20" y="877.20" font-size="21.84" fill="#262626" text-anchor="middle" textLength="12.40" lengthAdjust="spacingAndGlyphs">9</text>
<text x="500.70" y="877.20" font-size="21.84" fill="#262626" text-anchor="middle" textLength="24.80" lengthAdjust="spacingAndGlyphs">12</text>
<text x="557.20" y="877.20" font-size="21.84" fill="#262626" text-anchor="middle" textLength="24.80" lengthAdjust="spacingAndGlyphs">15</text>
<text x="613.70" y="877.20" font-size="21.84" fill="#262626" text-anchor="middle" textLength="24.80" lengthAdjust="spacingAndGlyphs">18</text>
<text x="670.20" y="877.20" font-size="21.84" fill="#262626" text-anchor="middle" textLength="24.80" lengthAdjust="spacingAndGlyphs">21</text>
<text x="726.70" y="877.20" font-size="21.84" fill="#262626" text-anchor="middle" textLength="24.80" lengthAdjust="spacingAndGlyphs">24</text>
<text x="867.70" y="877.20" font-size="21.84" fill="#262626" text-anchor="middle" textLength="12.40" lengthAdjust="spacingAndGlyphs">0</text>
<text x="924.30" y="877.20" font-size="21.84" fill="#262626" text-anchor="middle" textLength="12.40" lengthAdjust="spacingAndGlyphs">3</text>
<text x="980.90" y="877.20" font-size="21.84" fill="#262626" text-anchor="middle" textLength="12.40" lengthAdjust="spacingAndGlyphs">6</text>
<text x="1037.50" y="877.20" font-size="21.84" fill="#262626" text-anchor="middle" textLength="12.40" lengthAdjust="spacingAndGlyphs">9</text>
<text x="1094.10" y="877.20" font-size="21.84" fill="#262626" text-anchor="middle" textLength="24.80" lengthAdjust="spacingAndGlyphs">12</text>
<text x="1150.70" y="877.20" font-size="21.84" fill="#262626" text-anchor="middle" textLength="24.80" lengthAdjust="spacingAndGlyphs">15</text>
<text x="1207.30" y="877.20" font-size="21.84" fill="#262626" text-anchor="middle" textLength="24.80" lengthAdjust="spacingAndGlyphs">18</text>
<text x="1263.90" y="877.20" font-size="21.84" fill="#262626" text-anchor="middle" textLength="24.80" lengthAdjust="spacingAndGlyphs">21</text>
<text x="1320.50" y="877.20" font-size="21.84" fill="#262626" text-anchor="middle" textLength="24.80" lengthAdjust="spacingAndGlyphs">24</text>
<text x="1463.70" y="877.20" font-size="21.84" fill="#262626" text-anchor="middle" textLength="12.40" lengthAdjust="spacingAndGlyphs">0</text>
<text x="1519.92" y="877.20" font-size="21.84" fill="#262626" text-anchor="middle" textLength="12.40" lengthAdjust="spacingAndGlyphs">3</text>
<text x="1576.15" y="877.20" font-size="21.84" fill="#262626" text-anchor="middle" textLength="12.40" lengthAdjust="spacingAndGlyphs">6</text>
<text x="1632.38" y="877.20" font-size="21.84" fill="#262626" text-anchor="middle" textLength="12.40" lengthAdjust="spacingAndGlyphs">9</text>
<text x="1688.60" y="877.20" font-size="21.84" fill="#262626" text-anchor="middle" textLength="24.80" lengthAdjust="spacingAndGlyphs">12</text>
<text x="1744.83" y="877.20" font-size="21.84" fill="#262626" text-anchor="middle" textLength="24.80" lengthAdjust="spacingAndGlyphs">15</text>
<text x="1801.05" y="877.20" font-size="21.84" fill="#262626" text-anchor="middle" textLength="24.80" lengthAdjust="spacingAndGlyphs">18</text>
<text x="1857.28" y="877.20" font-size="21.84" fill="#262626" text-anchor="middle" textLength="24.80" lengthAdjust="spacingAndGlyphs">21</text>
<text x="1913.50" y="877.20" font-size="21.84" fill="#262626" text-anchor="middle" textLength="24.80" lengthAdjust="spacingAndGlyphs">24</text>
<text x="264.00" y="1273.50" font-size="21.84" fill="#262626" text-anchor="end" textLength="12.40" lengthAdjust="spacingAndGlyphs">0</text>
<text x="264.00" y="1199.80" font-size="21.84" fill="#262626" text-anchor="end" textLength="12.40" lengthAdjust="spacingAndGlyphs">2</text>
<text x="264.00" y="1126.10" font-size="21.84" fill="#262626" text-anchor="end" textLength="12.40" lengthAdjust="spacingAndGlyphs">4</text>
<text x="264.00" y="1052.40" font-size="21.84" fill="#262626" text-anchor="end" textLength="12.40" lengthAdjust="spacingAndGlyphs">6</text>
<text x="264.00" y="978.70" font-size="21.84" fill="#262626" text-anchor="end" textLength="12.40" lengthAdjust="spacingAndGlyphs">8</text>
<text x="274.70" y="1295.00" font-size="21.84" fill="#262626" text-anchor="middle" textLength="12.40" lengthAdjust="spacingAndGlyphs">0</text>
<text x="342.99" y="1295.00" font-size="21.84" fill="#262626" text-anchor="middle" textLength="12.40" lengthAdjust="spacingAndGlyphs">1</text>
<text x="411.28" y="1295.00" font-size="21.84" fill="#262626" text-anchor="middle" textLength="12.40" lengthAdjust="spacingAndGlyphs">2</text>
<text x="479.57" y="1295.00" font-size="21.84" fill="#262626" text-anchor="middle" textLength="12.40" lengthAdjust="spacingAndGlyphs">3</text>
<text x="547.87" y="1295.00" font-size="21.84" fill="#262626" text-anchor="middle" textLength="12.40" lengthAdjust="spacingAndGlyphs">4</text>
<text x="616.16" y="1295.00" font-size="21.84" fill="#262626" text-anchor="middle" textLength="12.40" lengthAdjust="spacingAndGlyphs">5</text>
<text x="684.45" y="1295.00" font-size="21.84" fill="#262626" text-anchor="middle" textLength="12.40" lengthAdjust="spacingAndGlyphs">6</text>
<text x="752.74" y="1295.00" font-size="21.84" fill="#262626" text-anchor="middle" textLength="12.40" lengthAdjust="spacingAndGlyphs">7</text>
<text x="821.03" y="1295.00" font-size="21.84" fill="#262626" text-anchor="middle" textLength="12.40" lengthAdjust="spacingAndGlyphs">8</text>
<text x="889.33" y="1295.00" font-size="21.84" fill="#262626" text-anchor="middle" textLength="12.40" lengthAdjust="spacingAndGlyphs">9</text>
<text x="957.62" y="1295.00" font-size="21.84" fill="#262626" text-anchor="middle" textLength="24.80" lengthAdjust="spacingAndGlyphs">10</text>
<text x="1025.91" y="1295.00" font-size="21.84" fill="#262626" text-anchor="middle" textLength="24.80" lengthAdjust="spacingAndGlyphs">11</text>
<text x="1094.20" y="1295.00" font-size="21.84" fill="#262626" text-anchor="middle" textLength="24.80" lengthAdjust="spacingAndGlyphs">12</text>
<text x="1162.49" y="1295.00" font-size="21.84" fill="#262626" text-anchor="middle" textLength="24.80" lengthAdjust="spacingAndGlyphs">13</text>
<text x="1230.78" y="1295.00" font-size="21.84" fill="#262626" text-anchor="middle" textLength="24.80" lengthAdjust="spacingAndGlyphs">14</text>
<text x="1299.08" y="1295.00" font-size="21.84" fill="#262626" text-anchor="middle" textLength="24.80" lengthAdjust="spacingAndGlyphs">15</text>
<text x="1367.37" y="1295.00" font-size="21.84" fill="#262626" text-anchor="middle" textLength="24.80" lengthAdjust="spacingAndGlyphs">16</text>
<text x="1435.66" y="1295.00" font-size="21.84" fill="#262626" text-anchor="middle" textLength="24.80" lengthAdjust="spacingAndGlyphs">17</text>
<text x="1503.95" y="1295.00" font-size="21.84" fill="#262626" text-anchor="middle" textLength="24.80" lengthAdjust="spacingAndGlyphs">18</text>
<text x="1572.24" y="1295.00" font-size="21.84" fill="#262626" text-anchor="middle" textLength="24.80" lengthAdjust="spacingAndGlyphs">19</text>
<text x="1640.53" y="1295.00" font-size="21.84" fill="#262626" text-anchor="middle" textLength="24.80" lengthAdjust="spacingAndGlyphs">20</text>
<text x="1708.83" y="1295.00" font-size="21.84" fill="#262626" text-anchor="middle" textLength="24.80" lengthAdjust="spacingAndGlyphs">21</text>
<text x="1777.12" y="1295.00" font-size="21.84" fill="#262626" text-anchor="middle" textLength="24.80" lengthAdjust="spacingAndGlyphs">22</text>
<text x="1845.41" y="1295.00" font-size="21.84" fill="#262626" text-anchor="middle" textLength="24.80" lengthAdjust="spacingAndGlyphs">23</text>
<text x="455.00" y="62.30" font-size="25.97" fill="#000" textLength="214.50" lengthAdjust="spacingAndGlyphs">Macquarie Island</text>
<text x="1050.00" y="61.90" font-size="25.97" fill="#000" textLength="106.00" lengthAdjust="spacingAndGlyphs">Eyrewell</text>
<text x="1644.50" y="61.90" font-size="25.97" fill="#000" textLength="105.00" lengthAdjust="spacingAndGlyphs">Dunedin</text>
<text x="274.50" y="99.70" font-size="12.72" fill="#1a1a1a" textLength="252.00" lengthAdjust="spacingAndGlyphs">File Updated:25-Oct-2025 00:50:03 UTC</text>
<text x="868.50" y="99.70" font-size="12.72" fill="#1a1a1a" textLength="252.00" lengthAdjust="spacingAndGlyphs">File Updated:25-Oct-2025 00:48:06 UTC</text>
<text x="1464.00" y="99.70" font-size="12.72" fill="#1a1a1a" textLength="252.00" lengthAdjust="spacingAndGlyphs">File Updated:25-Oct-2025 00:49:02 UTC</text>
<text x="591.50" y="107.20" font-size="15.90" fill="#1a1a1a" textLength="129.50" lengthAdjust="spacingAndGlyphs">minute resolution</text>
<text x="1184.50" y="107.20" font-size="15.90" fill="#1a1a1a" textLength="130.00" lengthAdjust="spacingAndGlyphs">minute resolution</text>
<text x="1779.00" y="107.20" font-size="15.90" fill="#1a1a1a" textLength="129.50" lengthAdjust="spacingAndGlyphs">minute resolution</text>
<text x="291.50" y="130.50" font-size="21.52" fill="#000" textLength="94.00" lengthAdjust="spacingAndGlyphs">time now</text>
<text x="291.50" y="560.10" font-size="21.52" fill="#000" textLength="94.00" lengthAdjust="spacingAndGlyphs">time now</text>
<text x="885.90" y="130.50" font-size="21.52" fill="#000" textLength="94.00" lengthAdjust="spacingAndGlyphs">time now</text>
<text x="885.90" y="560.10" font-size="21.52" fill="#000" textLength="94.00" lengthAdjust="spacingAndGlyphs">time now</text>
<text x="1479.90" y="130.50" font-size="21.52" fill="#000" textLength="94.00" lengthAdjust="spacingAndGlyphs">time now</text>
<text x="1479.90" y="560.10" font-size="21.52" fill="#000" textLength="94.00" lengthAdjust="spacingAndGlyphs">time now</text>
<text x="332.00" y="961.10" font-size="21.52" fill="#000" textLength="96.00" lengthAdjust="spacingAndGlyphs">time now</text>
<text x="439.00" y="478.90" font-size="23.85" fill="#262626" textLength="123.50" lengthAdjust="spacingAndGlyphs">UT Time /h</text>
<text x="1033.25" y="478.90" font-size="23.85" fill="#262626" textLength="123.50" lengthAdjust="spacingAndGlyphs">UT Time /h</text>
<text x="1627.75" y="478.90" font-size="23.85" fill="#262626" textLength="123.50" lengthAdjust="spacingAndGlyphs">UT Time /h</text>
<text transform="translate(220.90,377.00) rotate(-90)" x="0" y="0" font-size="16.36" fill="#0000ff" textLength="226.00" lengthAdjust="spacingAndGlyphs">X Mean Magnetic Field / nT</text>
<text transform="translate(815.00,377.00) rotate(-90)" x="0" y="0" font-size="16.36" fill="#0000ff" textLength="226.00" lengthAdjust="spacingAndGlyphs">X Mean Magnetic Field / nT</text>
<text transform="translate(1410.90,377.00) rotate(-90)" x="0" y="0" font-size="16.36" fill="#0000ff" textLength="226.00" lengthAdjust="spacingAndGlyphs">X Mean Magnetic Field / nT</text>
<text transform="translate(779.50,364.50) rotate(-90)" x="0" y="0" font-size="16.36" fill="#262626" textLength="203.00" lengthAdjust="spacingAndGlyphs">Rate of Change / nT/min</text>
<text transform="translate(1373.60,364.50) rotate(-90)" x="0" y="0" font-size="16.36" fill="#262626" textLength="203.00" lengthAdjust="spacingAndGlyphs">Rate of Change / nT/min</text>
<text transform="translate(1967.60,364.50) rotate(-90)" x="0" y="0" font-size="16.36" fill="#262626" textLength="203.00" lengthAdjust="spacingAndGlyphs">Rate of Change / nT/min</text>
<text x="736.50" y="605.80" font-size="17.38" fill="#1a1a1a" font-weight="bold" textLength="105.50" lengthAdjust="spacingAndGlyphs">dB/dT Alert</text>
<text x="736.00" y="760.70" font-size="17.38" fill="#0000ff" font-weight="bold" textLength="64.50" lengthAdjust="spacingAndGlyphs">B Alert</text>
<text x="1330.50" y="605.80" font-size="17.38" fill="#1a1a1a" font-weight="bold" textLength="105.50" lengthAdjust="spacingAndGlyphs">dB/dT Alert</text>
<text x="1330.00" y="760.70" font-size="17.38" fill="#0000ff" font-weight="bold" textLength="64.50" lengthAdjust="spacingAndGlyphs">B Alert</text>
<text x="275.00" y="908.80" font-size="21.73" fill="#000" textLength="143.00" lengthAdjust="spacingAndGlyphs">minor activity</text>
<text x="438.00" y="908.80" font-size="21.73" fill="#000" textLength="184.00" lengthAdjust="spacingAndGlyphs">moderate activity</text>
<text x="636.50" y="908.80" font-size="21.73" fill="#000" textLength="149.50" lengthAdjust="spacingAndGlyphs">strong activity</text>
<text x="1259.00" y="908.90" font-size="22.05" fill="#000" textLength="180.00" lengthAdjust="spacingAndGlyphs">Current Warning:</text>
<text x="1456.50" y="912.10" font-size="32.33" fill="#000" textLength="79.50" lengthAdjust="spacingAndGlyphs">0.0/9</text>
<text transform="translate(239.90,1190.00) rotate(-90)" x="0" y="0" font-size="23.55" fill="#262626" textLength="179.50" lengthAdjust="spacingAndGlyphs">Warning Values</text>
<text x="1021.50" y="1326.70" font-size="24.27" fill="#262626" textLength="147.00" lengthAdjust="spacingAndGlyphs">Time UTC / h</text>
<text x="849.00" y="1359.30" font-size="22.05" fill="#000" textLength="485.00" lengthAdjust="spacingAndGlyphs">Last updated: Sat 25 Oct 2025 13:50:34 NZDT</text>
</svg>
</body></html>
